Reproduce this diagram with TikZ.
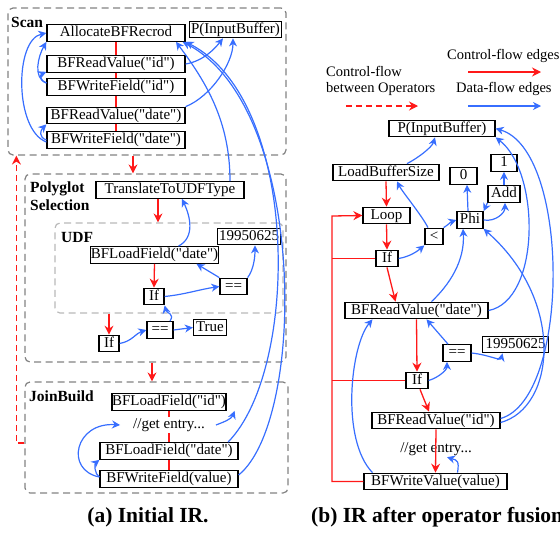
\documentclass[tikz,border=0pt]{standalone}
\usepackage{fontspec}
\setmainfont{Liberation Serif}[Ligatures=TeXOff]
\usetikzlibrary{arrows.meta,calc}
\definecolor{cfred}{RGB}{255,25,25}
\definecolor{dfblue}{RGB}{55,110,255}
\definecolor{grpgray}{RGB}{130,130,130}
\definecolor{udfgray}{RGB}{185,185,185}
\newcommand\nodefnt{\fontsize{15}{17}\selectfont}
\newcommand\lblfnt{\fontsize{15.5}{18}\selectfont\bfseries}
\newcommand\capfnt{\fontsize{21.5}{24}\selectfont\bfseries}
\begin{document}
\begin{tikzpicture}[x=1pt,y=-1pt,
  box/.style={draw=black, line width=1.25pt, fill=white, inner sep=0pt,
    minimum height=16.5pt, font=\nodefnt, text height=10.5pt, text depth=3.5pt},
  txt/.style={inner sep=1pt, font=\nodefnt, text height=10.5pt, text depth=3.5pt},
  lbl/.style={inner sep=0pt, font=\lblfnt},
  lgd/.style={inner sep=0pt, font=\fontsize{14.5}{16.5}\selectfont},
  captxt/.style={inner sep=0pt, font=\capfnt},
  grp/.style={draw=grpgray, line width=1.2pt, dash pattern=on 7pt off 4.5pt,
    rounded corners=5pt, inner sep=0pt},
  udfgrp/.style={grp, draw=udfgray},
  cf/.style={draw=cfred, line width=1.3pt, -{Stealth[length=9pt,width=9pt,inset=3pt]}},
  cfl/.style={draw=cfred, line width=1.3pt},
  cfd/.style={cf, dash pattern=on 6pt off 4pt},
  df/.style={draw=dfblue, line width=1.2pt, -{Stealth[length=8pt,width=8pt,inset=2.5pt]}},
]
\useasboundingbox (0,0) rectangle (560,533);

% ---------- group boxes ----------
\node[grp, minimum width=278pt, minimum height=147pt] (scan) at (147,81.5) {};
\node[grp, minimum width=261pt, minimum height=188pt] (poly) at (155.5,268) {};
\node[udfgrp, minimum width=228pt, minimum height=90pt] (udf) at (169,268) {};
\node[grp, minimum width=263pt, minimum height=111pt] (join) at (156.5,437.5) {};

\node[lbl, anchor=west] (lscan) at (11,22) {Scan};
\node[lbl, anchor=north west, align=left] (lpoly) at (30,182) {Polyglot\\Selection};
\node[lbl, anchor=west] (ludf) at (61,237) {UDF};
\node[lbl, anchor=west] (ljoin) at (29,396) {JoinBuild};

% ---------- left nodes ----------
\node[box,minimum width=138pt] (alloc) at (116,33) {AllocateBFRecrod};
\node[box,minimum width=92pt] (pin1) at (235.5,29.5) {P(InputBuffer)};
\node[box,minimum width=138pt] (rvid) at (116,64) {BFReadValue("id")};
\node[box,minimum width=138pt] (wfid) at (116,87) {BFWriteField("id")};
\node[box,minimum width=138pt] (rvdate) at (116,115.5) {BFReadValue("date")};
\node[box,minimum width=138pt] (wfdate) at (116,140) {BFWriteField("date")};
\node[box,minimum width=148pt] (transl) at (170,190) {TranslateToUDFType};
\node[box,minimum width=128pt] (lfdate) at (154.5,255) {BFLoadField("date")};
\node[box,minimum width=63pt] (ca) at (249,236.5) {19950625};
\node[box,minimum width=20pt] (ifa) at (154,296.5) {If};
\node[box,minimum width=27pt] (eqa) at (233.5,286.5) {==};
\node[box,minimum width=20pt] (ifb) at (109,343.5) {If};
\node[box,minimum width=26pt] (eqb) at (160,330) {==};
\node[box,minimum width=33pt] (tru) at (210,327.5) {True};
\node[box,minimum width=110pt] (lfid) at (169,402) {BFLoadField("id")};
\node[txt] (ge1) at (169,425) {//get entry...};
\node[box,minimum width=138pt] (lfdate2) at (169,451) {BFLoadField("date")};
\node[box,minimum width=138pt] (wfval) at (169,479) {BFWriteField(value)};

% ---------- right nodes ----------
\node[box,minimum width=106pt] (pin2) at (442,128.5) {P(InputBuffer)};
\node[box,minimum width=106pt] (lbs) at (386,172.5) {LoadBufferSize};
\node[box,minimum width=27pt] (zero) at (463.5,176) {0};
\node[box,minimum width=26pt] (one) at (504,163) {1};
\node[box,minimum width=32pt] (add) at (504,194) {Add};
\node[box,minimum width=47pt] (loop) at (386.5,215.5) {Loop};
\node[box,minimum width=26pt] (phi) at (470,220) {Phi};
\node[box,minimum width=18pt] (lt) at (434,236.5) {<};
\node[box,minimum width=22pt] (ifr1) at (387,258.5) {If};
\node[box,minimum width=143pt] (rvdr) at (416.5,310.5) {BFReadValue("date")};
\node[box,minimum width=66pt] (cb) at (515.5,344.5) {19950625};
\node[box,minimum width=28pt] (eqr) at (457,353) {==};
\node[box,minimum width=22pt] (ifr2) at (417,380.5) {If};
\node[box,minimum width=128pt] (rvidr) at (436,420.5) {BFReadValue("id")};
\node[txt] (ge2) at (436,449) {//get entry...};
\node[box,minimum width=143pt] (wvr) at (435.5,481.5) {BFWriteValue(value)};

% ---------- legend ----------
\node[lgd, anchor=west] (t1) at (447,56) {Control-flow edges};
\node[lgd, anchor=north west, align=left] (t2) at (326,66) {Control-flow\\between Operators};
\node[lgd, anchor=west] (t3) at (456,89) {Data-flow edges};
\coordinate (l1a) at (468,72); \coordinate (l1b) at (541,72);
\coordinate (l2a) at (468,106); \coordinate (l2b) at (541,106);
\coordinate (l3a) at (346,106); \coordinate (l3b) at (418,106);
\draw[cf] (l1a) -- (l1b);
\draw[df] (l2a) -- (l2b);
\draw[cfd] (l3a) -- (l3b);

% ---------- captions ----------
\node[captxt] (capa) at (148,517) {(a) Initial IR.};
\node[captxt, anchor=west] (capb) at (311,517) {(b) IR after operator fusion};

% ---------- left control flow ----------
\draw[cfl] (alloc.south) -- (rvid.north);
\draw[cfl] (rvid.south) -- (wfid.north);
\draw[cfl] (wfid.south) -- (rvdate.north);
\draw[cfl] (rvdate.south) -- (wfdate.north);
\draw[cf] ([xshift=-14pt]scan.south) -- ([xshift=-22.5pt]poly.north);
\draw[cf] ([xshift=-12pt]transl.south) -- ([xshift=-11pt]udf.north);
\draw[cf] (lfdate.south) -- (ifa.north);
\draw[cf] (udf.south -| ifb.north) -- (ifb.north);
\draw[cf] ([xshift=-3.5pt]poly.south) -- ([xshift=-4.5pt]join.north);
\draw[cfd] ([yshift=-5.5pt]join.west) -| ([xshift=9pt]scan.south west);
\draw[cfl] (lfid.south) -- (ge1.north);
\draw[cfl] (ge1.south) -- (lfdate2.north);
\draw[cfl] (lfdate2.south) -- (wfval.north);

% ---------- left data flow ----------
\draw[df] (rvid.east) .. controls +(18,-3) and +(-8,10) .. ([xshift=-12.5pt]pin1.south);
\draw[df] (rvdate.north east) .. controls +(25,-10) and +(0,25) .. ([xshift=-2.5pt]pin1.south);
\draw[df] ([yshift=4pt]wfid.west) .. controls +(-14,-5) and +(-8,14) .. (alloc.south west);
\draw[df] ([yshift=4pt]wfid.west) .. controls +(-6,-2) and +(-7,3) .. ([yshift=1pt]rvid.south west);
\draw[df] (wfdate.west) .. controls +(-8,-3) and +(-6,6) .. (rvdate.south west);
\draw[df] ([yshift=-2pt]wfdate.west) .. controls +(-32,-12) and +(-32,7) .. (alloc.west);
\draw[df] ([xshift=60pt]transl.north) .. controls +(0,-60) and +(30,40) .. ([xshift=60pt]alloc.south);
\draw[df] ([xshift=59pt]lfdate2.north) .. controls +(72,-73) and +(115,59) .. (alloc.south east);
\draw[df] ([yshift=4pt]wfval.east) .. controls +(68,-55) and +(125,65) .. ([xshift=-3pt]alloc.south east);
\draw[df] ([xshift=24pt]lfdate.north) .. controls +(17,-9) and +(8,17) .. ([xshift=12pt]transl.south);
\draw[df] (eqa.north west) -- ([xshift=42pt]lfdate.south);
\draw[df] (eqa.north east) .. controls +(6,-8) and +(0,12) .. ([xshift=6pt]ca.south);
\draw[df] (ifa.east) .. controls +(20,-2) and +(-20,3) .. (eqa.west);
\draw[df] (ifb.east) .. controls +(12,-2) and +(-10,3) .. (eqb.west);
\draw[df] (eqb.east) -- (tru.west);
\draw[df] ([xshift=10pt]eqb.north) .. controls +(5,-8) and +(2,8) .. (ifa.south east);
\draw[df] ([xshift=10pt]ge1.east) .. controls +(8,-3) and +(-3,8) .. ([xshift=8pt]lfid.south east);
\draw[df] ([yshift=2pt]wfval.west) .. controls +(-5,-3) and +(-5,4) .. (lfdate2.south west);
\draw[df] ([yshift=2pt]wfval.west) .. controls +(-35,-7) and +(-45,-3) .. ([xshift=-12pt]ge1.west);

% ---------- right control flow ----------
\coordinate (bus) at (332,216);
\draw[cf] (lbs.south) -- (loop.north);
\draw[cf] (loop.south) -- (ifr1.north);
\draw[cf] (ifr1.south) -- ([xshift=-21pt]rvdr.north);
\draw[cf] (rvdr.south) -- (ifr2.north);
\draw[cf] ([xshift=3pt]ifr2.south) -- ([xshift=-7pt]rvidr.north);
\draw[cf] (rvidr.south) -- (wvr.north);
\draw[cf] (wvr.west) -| (bus) -- (loop.west);
\draw[cfl] (ifr1.west) -- (ifr1.west -| bus);
\draw[cfl] (ifr2.west) -- (ifr2.west -| bus);

% ---------- right data flow ----------
\draw[df] ([xshift=21pt]lbs.north) .. controls +(10,-5) and +(-3,10) .. ([xshift=-7pt]pin2.south);
\draw[df] ([xshift=-6pt]lt.north) .. controls +(-6,-12) and +(5,10) .. ([xshift=11pt]lbs.south);
\draw[df] (lt.north east) .. controls +(5,-3) and +(-6,2) .. (phi.west);
\draw[df] (ifr1.east) .. controls +(12,-2) and +(-6,5) .. (lt.south west);
\draw[df] ([xshift=-2pt]phi.north) -- ([xshift=3.5pt]zero.south);
\draw[df] (add.south west) -- (phi.north east);
\draw[df] (phi.east) .. controls +(12,2) and +(0,10) .. ([xshift=1pt]add.south);
\draw[df] (add.north) -- (one.south);
\draw[df] ([xshift=15pt]rvdr.north) .. controls +(18,-17) and +(2,32) .. ([xshift=-7pt]phi.south);
\draw[df] (rvdr.east) .. controls +(52,-10) and +(45,35) .. (pin2.south east);
\draw[df] ([yshift=2pt]rvidr.east) .. controls +(70,-20) and +(75,22) .. (pin2.east);
\draw[df] ([yshift=-2pt]rvidr.east) .. controls +(55,-15) and +(82,72) .. (phi.south east);
\draw[df] ([xshift=-9pt]eqr.north) -- ([xshift=10pt]rvdr.south);
\draw[df] (eqr.east) .. controls +(18,2) and +(-2,8) .. ([xshift=-13pt]cb.south);
\draw[df] (ifr2.east) .. controls +(10,-3) and +(0,8) .. ([xshift=-10pt]eqr.south);
\draw[df] ([xshift=-63pt]wvr.north) .. controls +(-32,-33) and +(-22,26) .. ([xshift=-44pt]rvdr.south);
\draw[df] ([xshift=22pt]wvr.north) .. controls +(2,-12) and +(10,3) .. ([xshift=11pt]ge2.south);
\end{tikzpicture}
\end{document}
